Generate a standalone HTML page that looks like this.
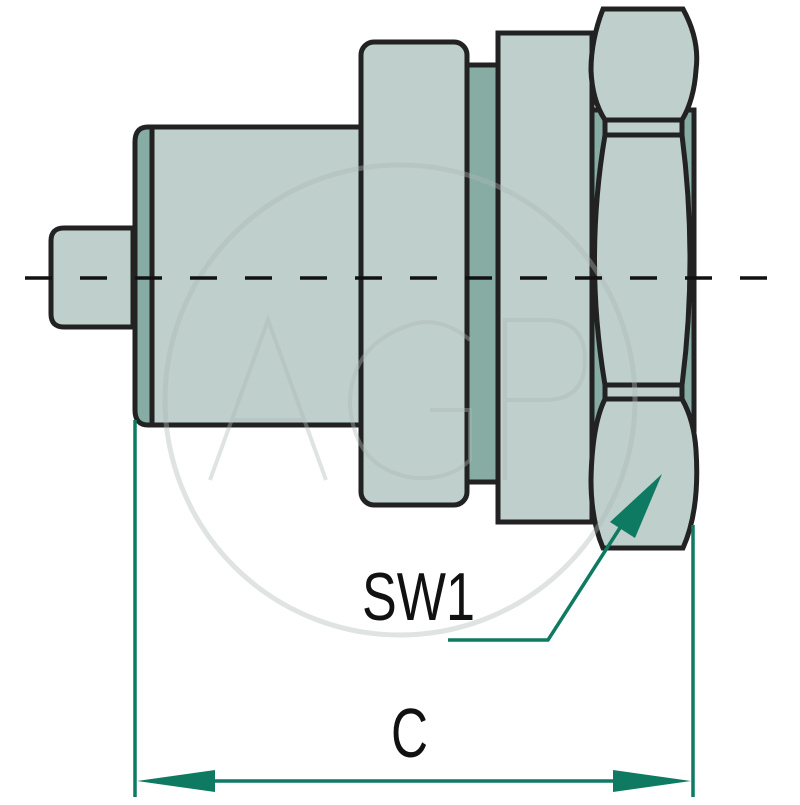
<!DOCTYPE html>
<html><head><style>html,body{margin:0;padding:0;background:#fff;}</style></head>
<body>
<svg width="800" height="800" viewBox="0 0 800 800" xmlns="http://www.w3.org/2000/svg">
<!-- pin -->
<path d="M133,228 H64 Q51,228 51,241 V314 Q51,327 64,327 H133 Z" fill="#bfcfcb" stroke="#222" stroke-width="5"/>
<!-- body chamfer -->
<path d="M152,127 H148 Q135,127 135,142 V410 Q135,425 148,425 H152 Z" fill="#86aca3" stroke="#222" stroke-width="5"/>
<rect x="152" y="127" width="210" height="298" fill="#bfcfcb" stroke="#222" stroke-width="5"/>
<!-- dark band -->
<rect x="465" y="65" width="33" height="417" fill="#86aca3" stroke="#222" stroke-width="5"/>
<!-- collar -->
<rect x="361" y="42" width="106" height="463" rx="13" fill="#bfcfcb" stroke="#222" stroke-width="5"/>
<!-- block -->
<rect x="498" y="33" width="94" height="489" fill="#bfcfcb" stroke="#222" stroke-width="5"/>
<!-- nut background dark -->
<rect x="592" y="110" width="102" height="320" fill="#86aca3" stroke="#222" stroke-width="5"/>
<!-- nut top crown -->
<path d="M603,9 H683 Q700,40 696,70 Q694,100 682,120 H605 Q592,100 591,70 Q591,40 603,9 Z" fill="#bfcfcb" stroke="#222" stroke-width="5"/>
<rect x="605" y="120" width="77" height="15" fill="#bfcfcb" stroke="#222" stroke-width="5"/>
<!-- middle -->
<path d="M605,135 H682 Q698,260 682,385 H605 Q584,260 605,135 Z" fill="#bfcfcb" stroke="#222" stroke-width="5"/>
<rect x="605" y="385" width="77" height="14" fill="#bfcfcb" stroke="#222" stroke-width="5"/>
<!-- bottom crown -->
<path d="M605,399 H682 Q694,420 696,450 Q700,510 683,548 H603 Q591,520 591,480 Q592,425 605,399 Z" fill="#bfcfcb" stroke="#222" stroke-width="5"/>
<!-- watermark -->
<g fill="none" stroke="#b0b8b6" stroke-opacity="0.4" stroke-width="5">
<circle cx="400" cy="400" r="235"/>
</g>
<g fill="none" stroke="#b0b8b6" stroke-opacity="0.4" stroke-width="4">
<path d="M210,480 L268,320 L326,480 M230,420 H306"/>
<path d="M470,340 Q440,315 410,325 Q350,345 350,405 Q355,470 415,478 Q450,480 470,460 V410 H430"/>
<path d="M505,480 V320 H545 Q585,320 585,360 Q585,400 545,400 H505"/>
</g>
<!-- centerline -->
<line x1="25" y1="278" x2="775" y2="278" stroke="#111" stroke-width="3.5" stroke-dasharray="27,28"/>
<!-- dimension lines -->
<g stroke="#0e7a62" stroke-width="3.5" fill="none">
<line x1="135" y1="420" x2="135" y2="797"/>
<line x1="693" y1="525" x2="693" y2="797"/>
<line x1="200" y1="781" x2="630" y2="781"/>
<polyline points="448,640 548,640 625,520"/>
</g>
<g fill="#0e7a62">
<polygon points="137,781 215,770 215,792"/>
<polygon points="691,781 613,770 613,792"/>
<polygon points="662,474 610,522 635,538"/>
</g>
<text x="362" y="620" font-family="Liberation Sans, sans-serif" font-size="68" fill="#111" textLength="113" lengthAdjust="spacingAndGlyphs">SW1</text>
<text x="391" y="757" font-family="Liberation Sans, sans-serif" font-size="70" fill="#111" textLength="37" lengthAdjust="spacingAndGlyphs">C</text>
</svg>
</body></html>
